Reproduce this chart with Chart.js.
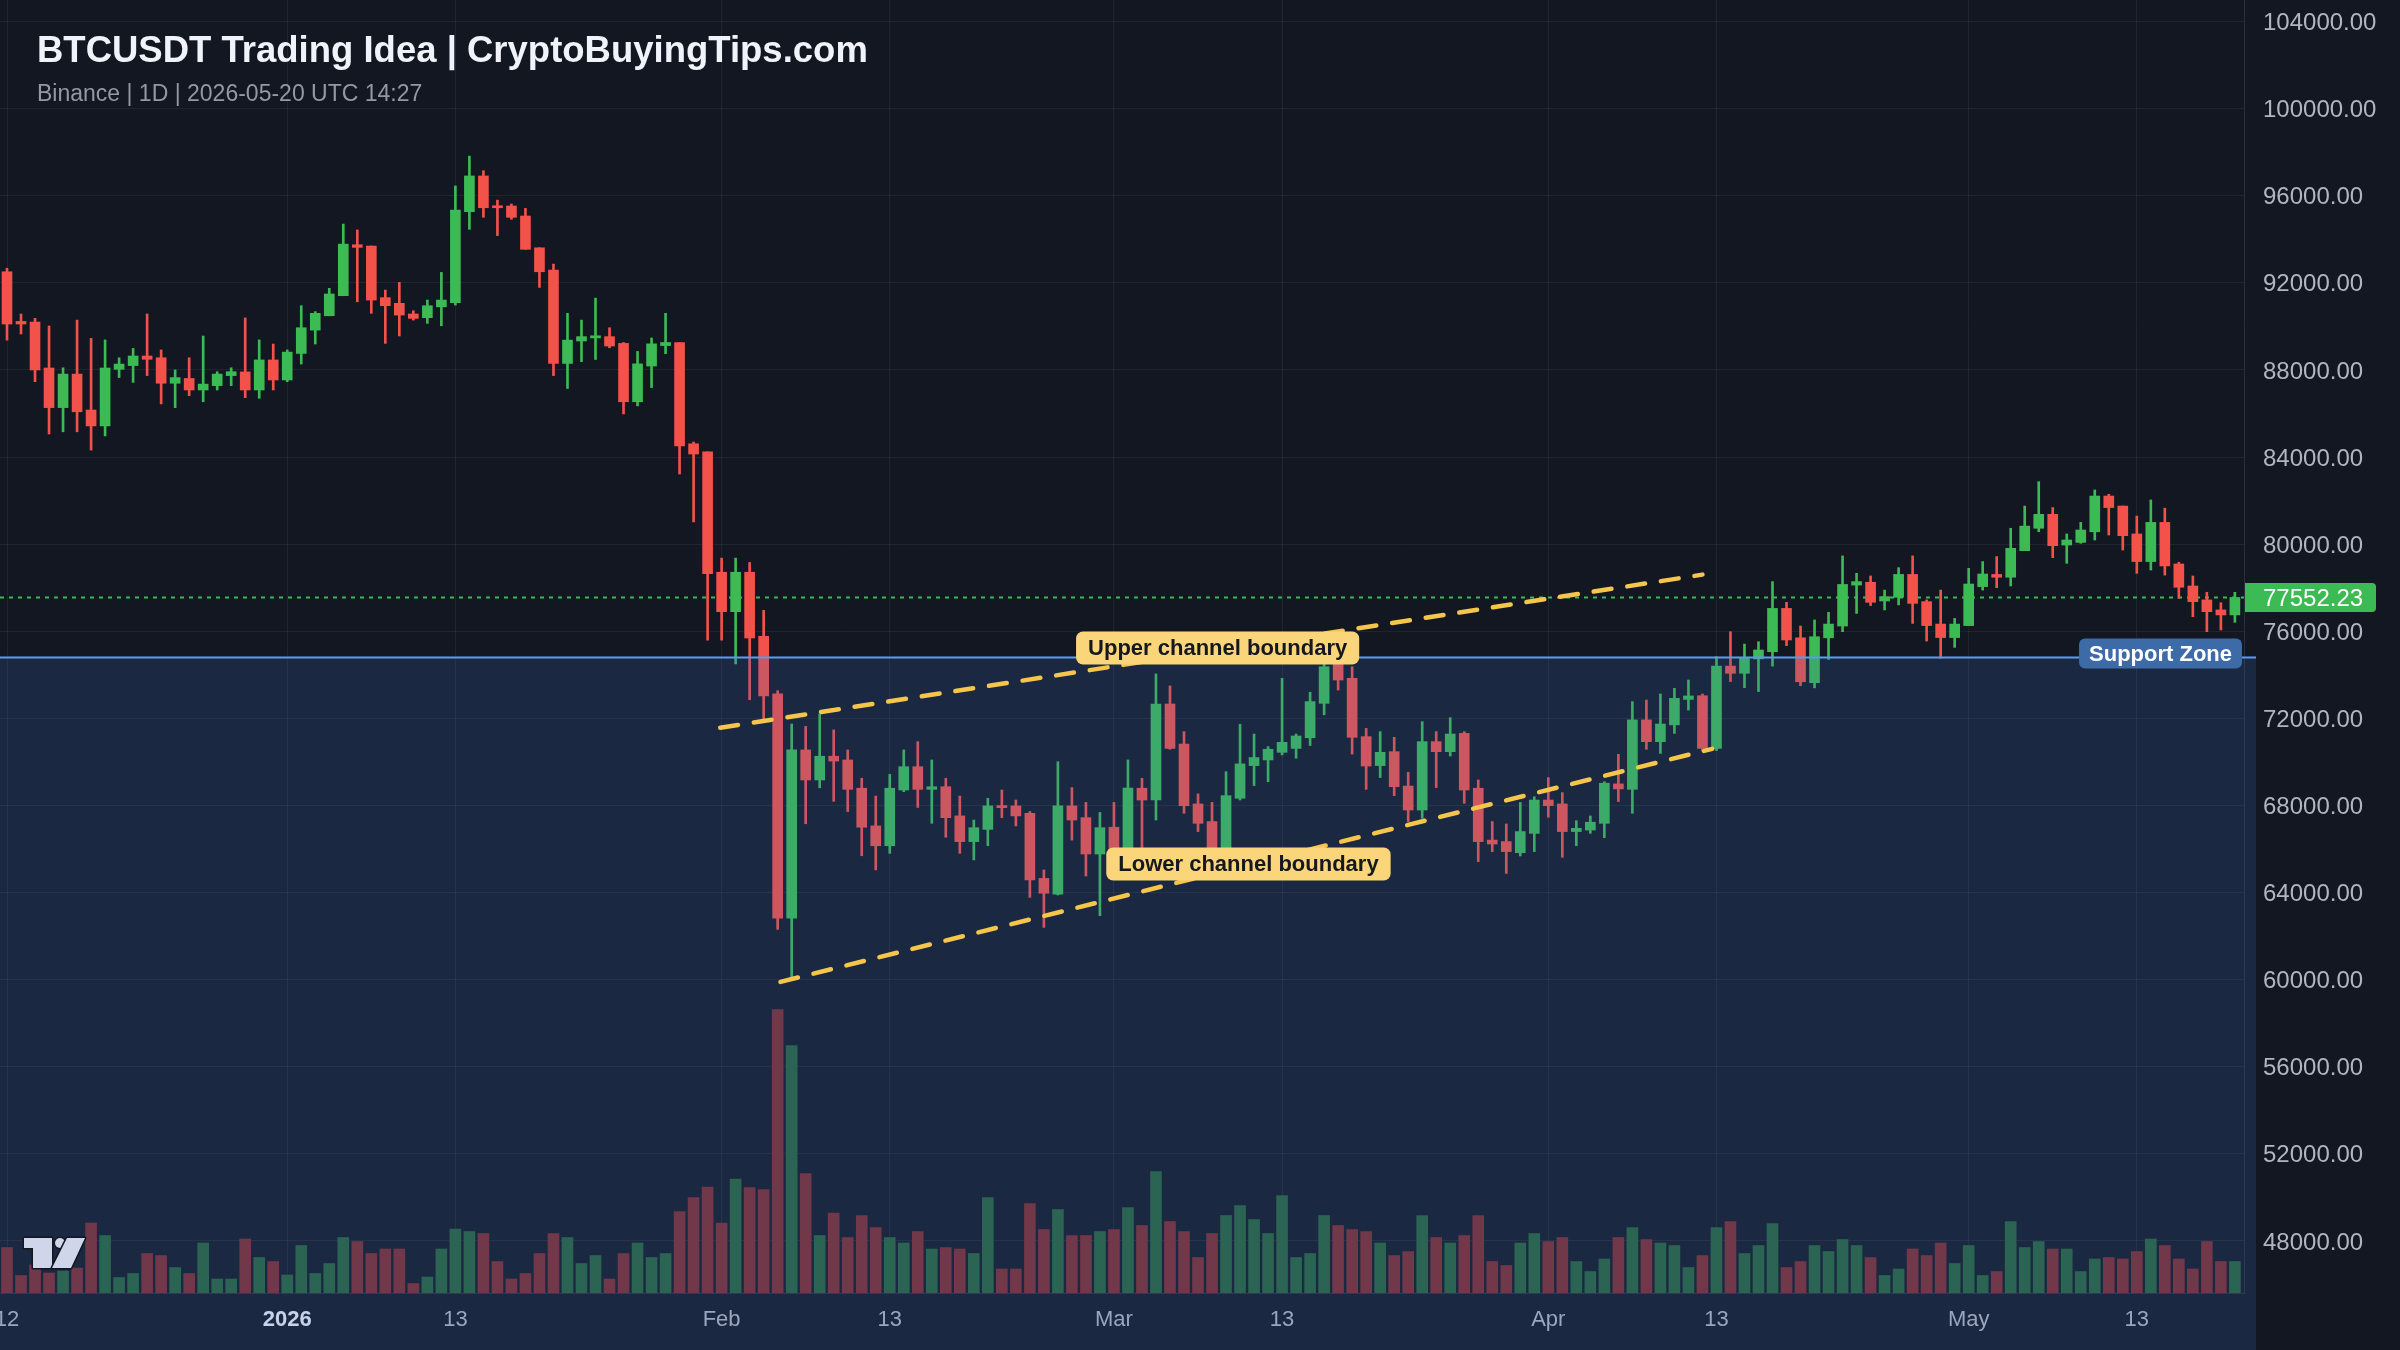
<!DOCTYPE html>
<html>
<head>
<meta charset="utf-8">
<title>BTCUSDT Trading Idea</title>
<script src="https://cdn.jsdelivr.net/npm/chart.js@4.4.1/dist/chart.umd.min.js"></script>
<style>
  html, body { margin: 0; padding: 0; background: #131722; }
  #wrap { position: relative; width: 2400px; height: 1350px; overflow: hidden; background: #131722; }
  #chart { position: absolute; left: 0; top: 0; }
  .title { position: absolute; left: 37px; top: 29px; line-height: 1; font: bold 36.5px "Liberation Sans", Arial, sans-serif; color: #f0f3fa; white-space: nowrap; }
  .sub { position: absolute; left: 37px; top: 80px; line-height: 1; font: 23px "Liberation Sans", Arial, sans-serif; color: #9598a1; white-space: nowrap; }
</style>
</head>
<body>
<div id="wrap">
  <canvas id="chart" width="2400" height="1350"></canvas>
  <div class="title">BTCUSDT Trading Idea | CryptoBuyingTips.com</div>
  <div class="sub">Binance | 1D | 2026-05-20 UTC 14:27</div>
</div>
<script>
// daily candles, 12 Dec 2025 -> 20 May 2026
const opens = [92510,90230,90200,88090,86270,87810,86160,85430,88030,88200,
  88640,88560,87390,87610,87080,87280,87740,87910,87080,88460,
  87540,88760,89830,90490,91410,93750,93690,91320,91060,90570,
  90400,90900,91090,95270,96910,95530,95530,95070,93610,92590,
  88300,89330,89470,89530,89220,86540,88180,89120,89260,84610,
  84240,78710,76900,78710,75770,73130,62820,70550,69170,70260,
  70090,68790,67060,66150,68710,69780,68740,68860,67520,66340,
  66900,67980,67980,67640,64650,63930,67980,67440,65770,67000,
  65900,68790,68250,72660,70820,68070,67260,65700,68330,69830,
  70090,70440,70620,71110,72690,74530,73840,71160,69830,70470,
  68890,67790,70930,70470,71310,68790,66410,66340,65830,66720,
  68250,68070,66800,66870,67180,68990,68740,71930,70930,71700,
  72870,73040,70620,74400,74070,74730,75060,77050,75700,73640,
  75700,76240,78120,78250,77390,77560,78610,77360,76330,75710,
  76260,78050,78610,78480,79700,80730,81370,79960,80080,80570,
  82210,81750,80470,79200,81000,79090,78080,77440,76980,76750];
const highs = [92670,90570,90370,90020,88100,90290,89450,89380,88560,88990,
  90570,88920,88000,88560,89560,87920,88100,90390,89380,89190,
  88920,90950,90680,91750,94700,94430,93690,91670,92020,90720,
  91210,92480,96450,97820,97150,95800,95620,95420,93610,92860,
  90600,90290,91300,89940,89260,88850,89470,90600,89260,84690,
  84240,79360,79360,79160,76960,73270,71740,71630,72190,71470,
  70550,69250,68430,69430,70550,70930,70090,69250,68430,67330,
  68330,68710,68250,67720,65040,70010,68820,68140,67680,68140,
  70090,69250,74040,73490,71390,68530,68140,69550,71730,71280,
  70700,73840,71280,73200,75300,75400,74370,71540,71390,71130,
  69520,71850,71390,72030,71390,69170,67260,67150,68140,68400,
  69280,68590,67300,67520,69090,70350,72770,72840,73120,73380,
  73760,73120,74830,75980,75410,75520,78280,77330,76240,76520,
  76870,79460,78660,78540,77890,78920,79460,77440,77890,76590,
  78890,79200,79430,80730,81750,82870,81680,80470,81000,82490,
  82290,81750,81290,82030,81650,79170,78540,77790,77310,77790];
const lows = [89370,89650,87460,85060,85160,85160,84320,84970,87650,87430,
  87740,86440,86270,86820,86540,87080,87280,86730,86700,87080,
  87460,88270,89190,90490,91410,91130,90600,89220,89560,90290,
  90140,90030,90980,94460,95010,94170,94920,93540,91790,87740,
  87150,88380,88480,89020,85980,86350,87190,88750,83220,81020,
  75590,75590,74500,72860,71940,62310,60050,67160,68810,68190,
  67720,65690,65040,65800,68630,67910,67180,66540,65800,65500,
  66150,67440,67060,63780,62400,63890,66410,64760,62940,65300,
  65400,66030,67330,70580,67640,66800,65100,65200,68250,68910,
  69090,70320,70170,70750,72160,73300,70360,68740,69280,68450,
  67260,67410,68820,70270,68100,65420,65880,64880,65680,65880,
  67460,65620,66150,66720,66520,68180,67640,70580,70390,71310,
  72380,70500,70520,73690,73410,73230,74400,75340,73500,73400,
  74710,75980,76820,77180,76980,77210,76360,75550,74760,75260,
  76260,77890,78000,78080,79700,80570,79380,79120,80040,80190,
  80420,79730,78660,78810,78580,77510,76670,75980,76060,76410];
const closes = [90110,90110,88000,86270,87810,86080,85430,88090,88270,88640,
  88490,87390,87650,87080,87350,87810,87920,87080,88460,87540,
  88820,89940,90600,91490,93780,93630,91210,90950,90520,90370,
  90950,91210,95340,96910,95450,95450,95010,93540,92510,88300,
  89370,89530,89570,89100,86540,88280,89200,89260,84510,84140,
  78640,76900,78710,75690,73030,62820,70550,69170,70260,70040,
  68740,67000,66150,68790,69780,68740,68860,67440,66340,66980,
  67980,67900,67520,64580,63970,67980,67330,65770,66980,65900,
  68800,68250,72660,70620,67990,67180,65700,68450,69910,70200,
  70580,70900,71190,72770,74370,73760,71130,69810,70440,68860,
  67790,70930,70470,71280,68710,66340,66230,65880,66800,68250,
  67990,66800,66950,67230,69020,68760,71930,70930,71740,72920,
  73030,70620,74400,74070,74760,75140,77050,75600,73680,75750,
  76330,78150,78280,77330,77590,78610,77280,76260,75710,76330,
  78170,78630,78480,79810,80830,81370,79930,80190,80650,82210,
  81680,80390,79200,81000,79000,78020,77360,76900,76750,77552.23];
// volume, thousand BTC
const volumes = [9.1,3.5,5.6,4.0,4.4,5.0,14.0,11.5,3.1,3.9,
  7.9,7.5,5.1,3.9,10.0,2.8,2.8,10.8,7.1,6.3,
  3.6,9.5,3.9,5.9,11.1,10.3,7.9,8.8,8.8,1.9,
  3.2,8.8,12.8,12.3,11.9,6.3,2.8,3.9,7.9,11.9,
  11.1,5.9,7.5,2.8,7.9,10.0,7.1,7.9,16.3,19.1,
  21.2,14.0,22.8,21.1,20.7,56.7,49.5,23.9,11.5,16.0,
  11.1,15.5,13.1,11.1,10.0,12.3,8.8,9.1,8.8,7.9,
  19.1,4.8,4.8,17.9,12.7,16.7,11.5,11.5,12.3,12.7,
  17.1,13.5,24.3,14.3,12.3,7.1,11.9,15.5,17.5,14.7,
  11.9,19.5,7.1,7.9,15.5,13.5,12.7,12.3,10.0,7.5,
  8.3,15.5,11.1,10.0,11.5,15.5,6.3,5.5,10.0,11.9,
  10.3,11.1,6.3,4.3,6.8,11.1,13.1,10.7,10.0,9.5,
  5.1,7.5,13.1,14.3,7.9,9.5,13.9,5.1,6.3,9.5,
  8.3,10.7,9.5,7.1,3.5,4.8,8.8,7.5,10.0,5.9,
  9.5,3.5,4.3,14.3,9.1,10.3,8.8,8.8,4.3,6.8,
  7.1,6.8,8.3,10.8,9.5,6.8,4.8,10.3,6.3,6.3];

const tickIndex = [0, 20, 32, 51, 63, 79, 91, 110, 122, 140, 152];
const tickText = ['12', '2026', '13', 'Feb', '13', 'Mar', '13', 'Apr', '13', 'May', '13'];
const priceTicks = [48000, 52000, 56000, 60000, 64000, 68000, 72000, 76000, 80000, 84000, 88000, 92000, 96000, 100000, 104000];

const supportLevel = 74840;
const lastPrice = 77552.23;
const upperChannel = [{ x: 50.9, y: 71570 }, { x: 121.0, y: 78600 }];
const lowerChannel = [{ x: 55.2, y: 59900 }, { x: 121.7, y: 70600 }];

const notes = [
  { text: 'Upper channel boundary', x: 86.4, y: 75230 },
  { text: 'Lower channel boundary', x: 88.6, y: 65310 }
];

const FONT = '"Liberation Sans", Arial, sans-serif';
const upColor = '#3cba54';
const downColor = '#f2524a';
const volUp = '#2b6452';
const volDown = '#703849';
const channelColor = '#f6c54c';

const idx = opens.map((_, i) => i);
const isUp = idx.map(i => closes[i] >= opens[i]);

function pill(ctx, text, cx, cy, o) {
  ctx.font = o.font;
  const w = ctx.measureText(text).width + o.padX * 2;
  const x = o.right !== undefined ? o.right - w : cx - w / 2;
  ctx.fillStyle = o.fill;
  ctx.beginPath();
  ctx.roundRect(x, cy - o.h / 2, w, o.h, o.r);
  ctx.fill();
  ctx.fillStyle = o.color;
  ctx.textAlign = 'center';
  ctx.textBaseline = 'middle';
  ctx.fillText(text, x + w / 2, cy + 1);
}

function drawLogo(ctx, x, y) {
  ctx.save();
  ctx.fillStyle = '#cfd6ea';
  ctx.strokeStyle = '#131722';
  ctx.lineWidth = 3;
  ctx.lineJoin = 'round';
  ctx.beginPath();
  ctx.moveTo(x, y); ctx.lineTo(x + 28, y); ctx.lineTo(x + 28, y + 30);
  ctx.lineTo(x + 9, y + 30); ctx.lineTo(x + 9, y + 10); ctx.lineTo(x, y + 10);
  ctx.closePath();
  ctx.stroke(); ctx.fill();
  ctx.beginPath();
  ctx.arc(x + 36, y + 5, 5, 0, Math.PI * 2);
  ctx.stroke(); ctx.fill();
  ctx.beginPath();
  ctx.moveTo(x + 43, y); ctx.lineTo(x + 61, y); ctx.lineTo(x + 47, y + 30); ctx.lineTo(x + 28, y + 30);
  ctx.closePath();
  ctx.stroke(); ctx.fill();
  ctx.restore();
}

const overlays = {
  id: 'overlays',
  beforeDatasetsDraw(chart) {
    const { ctx, chartArea, scales: { y } } = chart;
    const py = Math.round(y.getPixelForValue(lastPrice)) + 0.5;
    ctx.save();
    ctx.strokeStyle = upColor;
    ctx.lineWidth = 2;
    ctx.setLineDash([4, 5]);
    ctx.beginPath();
    ctx.moveTo(chartArea.left, py);
    ctx.lineTo(chartArea.right, py);
    ctx.stroke();
    ctx.restore();
  },
  afterDatasetDraw(chart, args) {
    if (chart.data.datasets[args.index].label !== 'Bodies') return;
    // support zone shading over the candles
    const { ctx, chartArea, scales: { y } } = chart;
    const sy = y.getPixelForValue(supportLevel);
    ctx.save();
    ctx.fillStyle = 'rgba(60, 110, 190, 0.2)';
    ctx.fillRect(0, sy, chartArea.right + 12, chart.height - sy);
    ctx.restore();
  },
  afterDraw(chart) {
    const { ctx, chartArea, scales: { x, y } } = chart;
    const sy = Math.round(y.getPixelForValue(supportLevel)) + 0.5;
    ctx.save();
    ctx.strokeStyle = '#5a9cf0';
    ctx.lineWidth = 2;
    ctx.beginPath();
    ctx.moveTo(0, sy);
    ctx.lineTo(chartArea.right + 12, sy);
    ctx.stroke();

    pill(ctx, 'Support Zone', 0, sy - 4, { font: 'bold 22px ' + FONT, padX: 10, h: 30, r: 6,
      fill: '#3d6ba8', color: '#ffffff', right: chartArea.right - 2 });

    notes.forEach(n => {
      pill(ctx, n.text, x.getPixelForValue(n.x), y.getPixelForValue(n.y), { font: 'bold 22px ' + FONT,
        padX: 12, h: 33, r: 7, fill: '#fad57a', color: '#15181f' });
    });

    // last price tag on the axis
    const py = y.getPixelForValue(lastPrice);
    ctx.fillStyle = '#3cba54';
    ctx.beginPath();
    ctx.roundRect(chartArea.right + 1, py - 14.5, 131, 29, [0, 4, 4, 0]);
    ctx.fill();
    ctx.fillStyle = '#ffffff';
    ctx.font = '24px ' + FONT;
    ctx.textAlign = 'left';
    ctx.textBaseline = 'middle';
    ctx.fillText(lastPrice.toFixed(2), chartArea.right + 19, py + 2);

    drawLogo(ctx, chartArea.left + 24, chartArea.bottom - 55);
    ctx.restore();
  }
};

Chart.defaults.font.family = FONT;

new Chart(document.getElementById('chart'), {
  type: 'bar',
  data: {
    datasets: [
      {
        label: 'Wicks',
        data: idx.map(i => ({ x: i, y: [lows[i], highs[i]] })),
        backgroundColor: isUp.map(u => u ? upColor : downColor),
        barThickness: 2, grouped: false, order: 4
      },
      {
        label: 'Bodies',
        data: idx.map(i => ({ x: i, y: [Math.min(opens[i], closes[i]), Math.max(opens[i], closes[i])] })),
        backgroundColor: isUp.map(u => u ? upColor : downColor),
        barThickness: 10, minBarLength: 2, grouped: false, order: 3
      },
      {
        label: 'Volume',
        yAxisID: 'vol',
        data: idx.map(i => ({ x: i, y: volumes[i] })),
        backgroundColor: isUp.map(u => u ? volUp : volDown),
        barThickness: 11, grouped: false, order: 2
      },
      {
        type: 'line', label: 'Upper channel', data: upperChannel,
        borderColor: channelColor, borderWidth: 4.5, borderDash: [18, 16], borderCapStyle: 'round',
        pointRadius: 0, order: 1
      },
      {
        type: 'line', label: 'Lower channel', data: lowerChannel,
        borderColor: channelColor, borderWidth: 4.5, borderDash: [18, 16], borderCapStyle: 'round',
        pointRadius: 0, order: 1
      }
    ]
  },
  options: {
    responsive: false,
    animation: false,
    devicePixelRatio: 1,
    layout: { padding: 0 },
    plugins: { legend: { display: false }, tooltip: { enabled: false } },
    scales: {
      x: {
        type: 'linear', min: -0.5, max: 159.65, offset: false,
        grid: { color: 'rgba(255,255,255,0.06)', drawTicks: false, offset: false },
        border: { color: '#2a2e39' },
        afterBuildTicks: s => { s.ticks = tickIndex.map(v => ({ value: v })); },
        afterFit: s => { s.height = 57; s.paddingLeft = 0; s.paddingRight = 0; },
        ticks: {
          padding: 14, maxRotation: 0, autoSkip: false,
          callback: v => tickText[tickIndex.indexOf(v)] ?? '',
          font: c => ({ size: 22, weight: c.tick && /^\d{4}$/.test(c.tick.label) ? 'bold' : 'normal' }),
          color: c => c.tick && /^\d{4}$/.test(c.tick.label) ? '#e9ecf3' : '#b2b5be'
        }
      },
      y: {
        position: 'right', min: 45610, max: 104990, beginAtZero: false,
        grid: { color: 'rgba(255,255,255,0.06)', drawTicks: false },
        border: { color: '#2a2e39' },
        afterBuildTicks: s => { s.ticks = priceTicks.map(v => ({ value: v })); },
        afterFit: s => { s.width = 156; s.paddingTop = 0; s.paddingBottom = 0; },
        ticks: {
          padding: 19, autoSkip: false, labelOffset: 2,
          color: '#b2b5be', font: { size: 24 },
          callback: v => v.toFixed(2)
        }
      },
      vol: { display: false, min: 0, max: 258.6 }
    }
  },
  plugins: [overlays]
});
</script>
</body>
</html>
